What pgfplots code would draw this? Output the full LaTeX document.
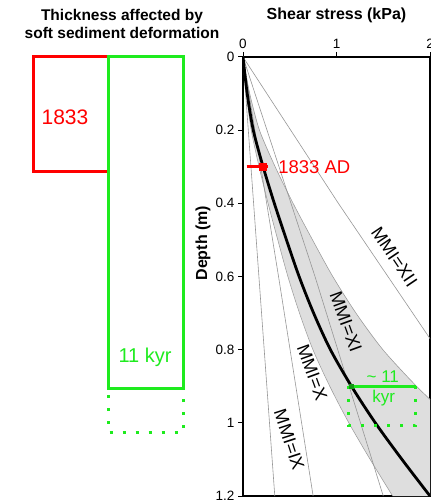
\documentclass[border=0pt]{standalone}
\usepackage{fontspec}
\setmainfont{Liberation Sans}
\usepackage{pgfplots}
\pgfplotsset{compat=1.18}
\definecolor{myred}{RGB}{255,0,0}
\definecolor{mygreen}{RGB}{30,235,30}
\definecolor{darkgreen}{RGB}{20,150,20}
\definecolor{bandgray}{RGB}{222,222,222}
\definecolor{linegray}{RGB}{150,150,150}
\begin{document}
\begin{tikzpicture}
\useasboundingbox (0pt,0pt) rectangle (430pt,502pt);
% ---------- left panel: thickness affected ----------
\begin{axis}[at={(0pt,445pt)}, anchor=north west, scale only axis,
  width=200pt, height=439pt, xmin=0, xmax=200, ymin=0, ymax=1.2,
  y dir=reverse, hide axis, clip=false]
\addplot[myred, line width=3pt, line join=miter] coordinates {(33,0) (108,0) (108,0.314) (33,0.314)} -- cycle;
\addplot[mygreen, line width=3pt, line join=miter] coordinates {(108,0) (183,0) (183,0.907) (108,0.907)} -- cycle;
\addplot[mygreen, line width=3pt, dash pattern=on 3pt off 10pt] coordinates {(108,0.925) (108,1.027) (183,1.027) (183,0.925)};
\node[myred, font=\fontsize{21}{23}\selectfont] at (axis cs:65,0.164) {1833};
\node[mygreen, font=\fontsize{20}{22}\selectfont] at (axis cs:145,0.822) {11 kyr};
\end{axis}
\node[font=\bfseries\fontsize{15.5}{18}\selectfont, align=center] at (122pt,478pt) {Thickness affected by\\soft sediment deformation};
% ---------- right panel: shear stress ----------
\begin{axis}[at={(243pt,445pt)}, anchor=north west, scale only axis,
  width=187pt, height=439pt, xmin=0, xmax=2, ymin=0, ymax=1.2,
  y dir=reverse, axis line style={line width=1.2pt},
  xtick={0,1,2}, ytick={0,0.2,0.4,0.6,0.8,1,1.2},
  xtick pos=top, xticklabel pos=top, ytick pos=left,
  tick align=outside, major tick length=5pt,
  tick style={line width=1pt, black},
  /pgf/number format/assume math mode=true,
  ticklabel style={font=\fontsize{13.5}{15}\selectfont},
  xlabel={Shear stress (kPa)},
  xlabel style={font=\bfseries\fontsize{16}{18}\selectfont, at={(axis description cs:0.5,1)}, anchor=center, yshift=42pt},
  ylabel={Depth (m)},
  ylabel style={font=\bfseries\fontsize{16}{18}\selectfont, at={(axis description cs:0,0.576)}, anchor=center, yshift=40pt},
  ]
% uncertainty band
\addplot[fill=bandgray, draw=none] coordinates {
 (0,0) (0.036,0.1) (0.088,0.2) (0.172,0.3) (0.268,0.4) (0.372,0.5) (0.48,0.6) (0.604,0.7) (0.748,0.8) (0.928,0.9) (1.132,1.0) (1.36,1.1) (1.6,1.2)
 (3.2,1.2) (2.72,1.1) (2.264,1.0) (1.856,0.9) (1.496,0.8) (1.208,0.7) (0.96,0.6) (0.744,0.5) (0.536,0.4) (0.344,0.3) (0.176,0.2) (0.072,0.1) (0,0)} -- cycle;
\addplot[linegray, line width=0.5pt, smooth] coordinates {
 (0,0) (0.036,0.1) (0.088,0.2) (0.172,0.3) (0.268,0.4) (0.372,0.5) (0.48,0.6) (0.604,0.7) (0.748,0.8) (0.928,0.9) (1.132,1.0) (1.36,1.1) (1.6,1.2)};
\addplot[linegray, line width=0.5pt, smooth] coordinates {
 (0,0) (0.072,0.1) (0.176,0.2) (0.344,0.3) (0.536,0.4) (0.744,0.5) (0.96,0.6) (1.208,0.7) (1.496,0.8) (1.856,0.9) (2.264,1.0)};
% MMI lines
\addplot[linegray, line width=0.6pt] coordinates {(0,0) (0.17,0.6) (0.34,1.2)};
\addplot[linegray, line width=0.6pt] coordinates {(0,0) (0.38,0.6) (0.75,1.2)};
\addplot[linegray, line width=0.6pt] coordinates {(0,0) (0.77,0.6) (1.5,1.2)};
\addplot[linegray, line width=0.6pt] coordinates {(0,0) (1.02,0.4) (2.08,0.8)};
% critical curve
\addplot[black, line width=2.8pt, smooth] coordinates {
 (0,0) (0.045,0.1) (0.11,0.2) (0.215,0.3) (0.335,0.4) (0.465,0.5) (0.60,0.6) (0.755,0.7) (0.935,0.8) (1.16,0.9) (1.415,1.0) (1.70,1.1) (2.0,1.2)};
% 1833 AD
\addplot[myred, line width=3.5pt] coordinates {(0.04,0.30) (0.27,0.30)};
\addplot[myred, only marks, mark=square*, mark size=3.5pt] coordinates {(0.215,0.30)};
% 11 kyr
\addplot[mygreen, line width=3pt, dash pattern=on 3pt off 10pt] coordinates {(1.13,0.9) (1.13,1.008) (1.84,1.008) (1.84,0.9)};
\addplot[mygreen, line width=3pt] coordinates {(1.13,0.9) (1.85,0.9)};
\addplot[darkgreen, only marks, mark=square*, mark size=1.8pt] coordinates {(1.16,0.9)};
% labels
\node[myred, anchor=west, font=\fontsize{18.5}{20}\selectfont] at (axis cs:0.34,0.30) {1833 AD};
\node[mygreen, font=\fontsize{17}{19}\selectfont] at (axis cs:1.495,0.874) {\textasciitilde{} 11};
\node[mygreen, font=\fontsize{17}{19}\selectfont] at (axis cs:1.505,0.932) {kyr};
\node[rotate=-72, font=\fontsize{18}{20}\selectfont] at (axis cs:0.495,1.046) {MMI=IX};
\node[rotate=-70, font=\fontsize{18}{20}\selectfont] at (axis cs:0.74,0.863) {MMI=X};
\node[rotate=-70, font=\fontsize{18}{20}\selectfont] at (axis cs:1.10,0.724) {MMI=XI};
\node[rotate=-56, font=\fontsize{18}{20}\selectfont] at (axis cs:1.62,0.546) {MMI=XII};
\end{axis}
\end{tikzpicture}
\end{document}
